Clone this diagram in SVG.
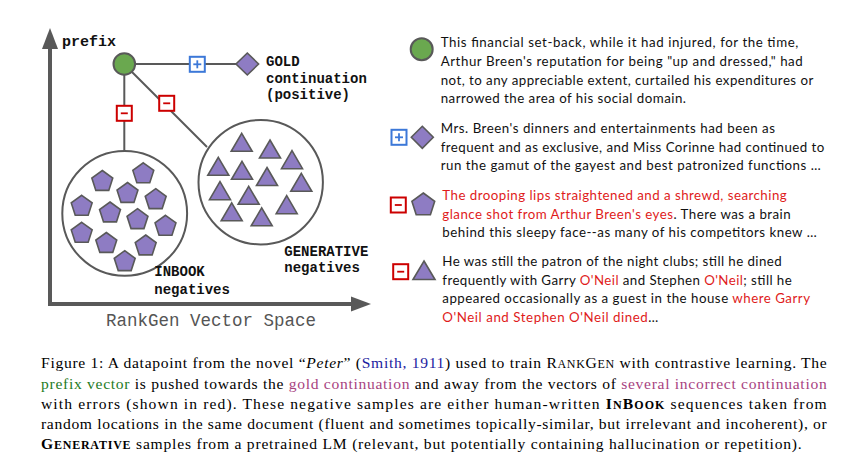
<svg xmlns="http://www.w3.org/2000/svg" xmlns:xlink="http://www.w3.org/1999/xlink" width="850" height="473" viewBox="0 0 850 473">
<style>
.ax{stroke:#595959;stroke-width:4;fill:none}
.axh{fill:#595959}
.edge{stroke:#595959;stroke-width:2;fill:none}
.shape{fill:#8e7cc3;stroke:#595959;stroke-width:1.6}
.pre{fill:#6aa84f;stroke:#595959;stroke-width:2}
.clu{fill:#fff;stroke:#595959;stroke-width:2}
.bxr{fill:#fff;stroke:#cc0000;stroke-width:2}
.bxb{fill:#fff;stroke:#3c78d8;stroke-width:2}
.sr{stroke:#cc0000;stroke-width:1.8}
.sb{stroke:#3c78d8;stroke-width:1.8}
.mono{font-family:"Liberation Mono","DejaVu Sans Mono",monospace;font-weight:bold;font-size:14px;fill:#111}
.axl{font-family:"Liberation Mono","DejaVu Sans Mono",monospace;font-size:17.5px;fill:#555}
.pt{font-family:Lato,"Open Sans","Liberation Sans",sans-serif;font-size:13.3px;fill:#111}
.red{fill:#e01b1b}
.cap{font-family:"Liberation Serif","Times New Roman",serif;font-size:15.6px;fill:#000}
.sc{font-size:12px}
.cite{fill:#1c1ca0}
.grn{fill:#1e7b1e}
.mag{fill:#a8437f}
</style>
<defs>
<polygon id="pent" class="shape" points="0,-11 10.46,-3.4 6.47,8.9 -6.47,8.9 -10.46,-3.4"/>
<polygon id="tri" class="shape" points="0,-12 10.5,6 -10.5,6"/>
</defs>

<g id="axes">
<line class="ax" x1="50" y1="46" x2="50" y2="306"/>
<polygon class="axh" points="50,28 42,49 58,49"/>
<line class="ax" x1="48" y1="304" x2="353" y2="304"/>
<polygon class="axh" points="371,304 351,296.5 351,311.5"/>
<text class="axl" x="106" y="325.7">RankGen Vector Space</text>
</g>

<g id="connectors">
<line class="edge" x1="135" y1="64" x2="236" y2="64"/>
<line class="edge" x1="124.3" y1="75" x2="124.3" y2="151"/>
<line class="edge" x1="132" y1="72" x2="207" y2="147"/>
<g id="label-plus"><rect class="bxb" x="189.8" y="56.8" width="15" height="15"/><line class="sb" x1="193.3" y1="64.3" x2="201.3" y2="64.3"/><line class="sb" x1="197.3" y1="60.3" x2="197.3" y2="68.3"/></g>
<g id="label-minus1"><rect class="bxr" x="116.8" y="105.8" width="15" height="15"/><line class="sr" x1="120.8" y1="113.3" x2="127.8" y2="113.3"/></g>
<g id="label-minus2"><rect class="bxr" x="159.2" y="95.8" width="15" height="15"/><line class="sr" x1="163.2" y1="103.3" x2="170.2" y2="103.3"/></g>
</g>

<g id="prefix">
<circle class="pre" cx="124.3" cy="64" r="10.8"/>
<text class="mono" x="62" y="45.7" style="font-size:15px">prefix</text>
</g>

<g id="gold">
<polygon class="shape" points="247.3,53 258.6,64 247.3,75 236,64"/>
<text class="mono" x="266" y="65.7">GOLD</text>
<text class="mono" x="266" y="82.7">continuation</text>
<text class="mono" x="266" y="99.3">(positive)</text>
</g>

<g id="inbook">
<circle class="clu" cx="124.7" cy="213.4" r="62.4"/>
<use xlink:href="#pent" x="102.3" y="181.5"/>
<use xlink:href="#pent" x="143.3" y="173.8"/>
<use xlink:href="#pent" x="127.5" y="193.5"/>
<use xlink:href="#pent" x="155.7" y="199.7"/>
<use xlink:href="#pent" x="81.7" y="206.3"/>
<use xlink:href="#pent" x="110" y="213"/>
<use xlink:href="#pent" x="137.5" y="219.7"/>
<use xlink:href="#pent" x="165.5" y="226.3"/>
<use xlink:href="#pent" x="81.7" y="233.3"/>
<use xlink:href="#pent" x="106.3" y="243.5"/>
<use xlink:href="#pent" x="145.7" y="246"/>
<use xlink:href="#pent" x="124.7" y="261.7"/>
<text class="mono" x="154.3" y="276.3">INBOOK</text>
<text class="mono" x="154.3" y="293.5">negatives</text>
</g>

<g id="generative">
<circle class="clu" cx="260.7" cy="182.2" r="62.2"/>
<use xlink:href="#tri" x="241.7" y="145.3"/>
<use xlink:href="#tri" x="270" y="152"/>
<use xlink:href="#tri" x="292" y="162.7"/>
<use xlink:href="#tri" x="218.3" y="169.3"/>
<use xlink:href="#tri" x="242" y="173.3"/>
<use xlink:href="#tri" x="267" y="179.5"/>
<use xlink:href="#tri" x="301.3" y="185.3"/>
<use xlink:href="#tri" x="220" y="193.7"/>
<use xlink:href="#tri" x="248.7" y="198.3"/>
<use xlink:href="#tri" x="286.7" y="207.7"/>
<use xlink:href="#tri" x="231.7" y="214.8"/>
<use xlink:href="#tri" x="261.7" y="219.8"/>
<text class="mono" x="284.3" y="255.5">GENERATIVE</text>
<text class="mono" x="284.3" y="272">negatives</text>
</g>

<g id="panel-prefix">
<circle class="pre" cx="421.7" cy="49.3" r="11"/>
<text class="pt" x="440.7" y="47.3" textLength="357.6">This financial set-back, while it had injured, for the time,</text>
<text class="pt" x="440.7" y="66" textLength="362">Arthur Breen's reputation for being "up and dressed," had</text>
<text class="pt" x="440.7" y="84.7" textLength="372.6">not, to any appreciable extent, curtailed his expenditures or</text>
<text class="pt" x="440.7" y="103.3" textLength="245.3">narrowed the area of his social domain.</text>
</g>

<g id="panel-gold">
<rect class="bxb" x="391.5" y="129.8" width="15" height="15"/><line class="sb" x1="395" y1="137.3" x2="403" y2="137.3"/><line class="sb" x1="399" y1="133.3" x2="399" y2="141.3"/>
<polygon class="shape" points="422.3,126.3 433.3,137.3 422.3,148.3 411.3,137.3"/>
<text class="pt" x="440.7" y="133.3" textLength="334.3">Mrs. Breen's dinners and entertainments had been as</text>
<text class="pt" x="440.7" y="151.7" textLength="383.6">frequent and as exclusive, and Miss Corinne had continued to</text>
<text class="pt" x="440.7" y="170" textLength="380">run the gamut of the gayest and best patronized functions …</text>
</g>

<g id="panel-inbook">
<rect class="bxr" x="390.8" y="197.5" width="15" height="15"/><line class="sr" x1="394.8" y1="205" x2="401.8" y2="205"/>
<polygon class="shape" points="423.3,193 434.7,201.3 430.4,214.7 416.2,214.7 411.9,201.3"/>
<text class="pt red" x="442.3" y="200" textLength="344.4">The drooping lips straightened and a shrewd, searching</text>
<text class="pt" x="442.3" y="219" textLength="348.4"><tspan class="red">glance shot from Arthur Breen's eyes</tspan>. There was a brain</text>
<text class="pt" x="442.3" y="236.7" textLength="374.4">behind this sleepy face--as many of his competitors knew …</text>
</g>

<g id="panel-generative">
<rect class="bxr" x="393.2" y="264.2" width="15" height="15"/><line class="sr" x1="397.2" y1="271.7" x2="404.2" y2="271.7"/>
<polygon class="shape" points="424,261 435,279.5 413,279.5"/>
<text class="pt" x="442.3" y="266" textLength="339.4">He was still the patron of the night clubs; still he dined</text>
<text class="pt" x="442.3" y="285" textLength="349.4">frequently with Garry <tspan class="red">O'Neil</tspan> and Stephen <tspan class="red">O'Neil</tspan>; still he</text>
<text class="pt" x="442.3" y="303.3" textLength="367.7">appeared occasionally as a guest in the house <tspan class="red">where Garry</tspan></text>
<text class="pt" x="442.3" y="321.7" textLength="216"><tspan class="red">O'Neil and Stephen O'Neil dined</tspan>…</text>
</g>

<g id="caption">
<text class="cap" x="41" y="368.3" textLength="785.7">Figure 1: A datapoint from the novel “<tspan font-style="italic">Peter</tspan>” (<tspan class="cite">Smith, 1911</tspan>) used to train R<tspan class="sc">ANK</tspan>G<tspan class="sc">EN</tspan> with contrastive learning. The</text>
<text class="cap" x="41" y="389.3" textLength="785.7"><tspan class="grn">prefix vector</tspan> is pushed towards the <tspan class="mag">gold continuation</tspan> and away from the vectors of <tspan class="mag">several incorrect continuation</tspan></text>
<text class="cap" x="41" y="408.8" textLength="785.7">with errors (shown in red).  These negative samples are either human-written <tspan font-weight="bold">I<tspan class="sc">N</tspan>B<tspan class="sc">OOK</tspan></tspan> sequences taken from</text>
<text class="cap" x="41" y="428.6" textLength="785.7">random locations in the same document (fluent and sometimes topically-similar, but irrelevant and incoherent), or</text>
<text class="cap" x="41" y="449.3" textLength="760.7"><tspan font-weight="bold">G<tspan class="sc">ENERATIVE</tspan></tspan> samples from a pretrained LM (relevant, but potentially containing hallucination or repetition).</text>
</g>
</svg>
